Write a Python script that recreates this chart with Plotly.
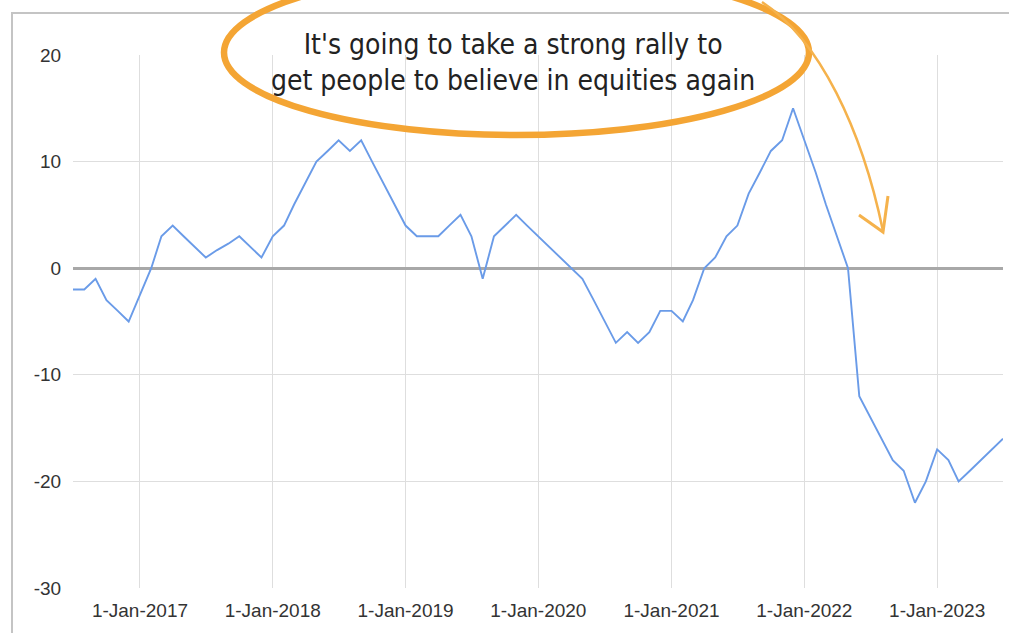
import plotly.graph_objects as go
import pandas as pd

# ---- data ----
months = pd.date_range("2016-07-01", "2023-07-01", freq="MS").strftime("%Y-%m-%d").tolist()
values = [
    -2, -2, -1, -3, -4, -5,                      # 2016 Jul-Dec
    -2.5, 0, 3, 4, 3, 2, 1, 1.7, 2.3, 3, 2, 1,   # 2017
    3, 4, 6, 8, 10, 11, 12, 11, 12, 10, 8, 6,    # 2018
    4, 3, 3, 3, 4, 5, 3, -1, 3, 4, 5, 4,         # 2019
    3, 2, 1, 0, -1, -3, -5, -7, -6, -7, -6, -4,  # 2020
    -4, -5, -3, 0, 1, 3, 4, 7, 9, 11, 12, 15,    # 2021
    12, 9, 6, 3, 0, -12, -14, -16, -18, -19, -22, -20,  # 2022
    -17, -18, -20, -19, -18, -17, -16,           # 2023 Jan-Jul
]
x_tickvals = ["2017-01-01", "2018-01-01", "2019-01-01", "2020-01-01",
              "2021-01-01", "2022-01-01", "2023-01-01"]
x_ticktext = ["1-Jan-2017", "1-Jan-2018", "1-Jan-2019", "1-Jan-2020",
              "1-Jan-2021", "1-Jan-2022", "1-Jan-2023"]
y_tickvals = [20, 10, 0, -10, -20, -30]
y_ticktext = ["20", "10", "0", "-10", "-20", "-30"]
note_lines = ["It's going to take a strong rally to",
              "get people to believe in equities again"]

# ---- layout geometry (pixels) ----
W, H = 1009, 633
L, R, T, B = 73, 1003, 55, 588


def px(xp):
    return (xp - L) / (R - L)


def py(yp):
    return (B - yp) / (B - T)


fig = go.Figure()
fig.add_trace(go.Scatter(
    x=months, y=values, mode="lines",
    line=dict(color="#6a9be8", width=1.9),
    hoverinfo="x+y", showlegend=False,
))

tick_font = dict(family="Liberation Sans, Arial, sans-serif", size=19, color="#333333")

fig.update_layout(
    width=W, height=H,
    margin=dict(l=L, r=W - R, t=T, b=H - B),
    paper_bgcolor="white", plot_bgcolor="white",
    showlegend=False,
    xaxis=dict(
        range=["2016-07-01", "2023-07-01"],
        tickvals=x_tickvals, ticktext=x_ticktext,
        showgrid=True, gridcolor="#dedede", gridwidth=1,
        zeroline=False, showline=False,
        ticks="outside", ticklen=5, tickcolor="rgba(0,0,0,0)",
        tickfont=tick_font, fixedrange=True,
    ),
    yaxis=dict(
        range=[-30, 20],
        tickvals=y_tickvals, ticktext=y_ticktext,
        showgrid=True, gridcolor="#dedede", gridwidth=1,
        zeroline=True, zerolinecolor="#a8a8a8", zerolinewidth=2.5,
        showline=False,
        ticks="outside", ticklen=7, tickcolor="rgba(0,0,0,0)",
        tickfont=tick_font, fixedrange=True,
    ),
)

orange = "#f4a534"
shapes = [
    # outer frame of the screenshot
    dict(type="rect", xref="paper", yref="paper",
         x0=px(12), x1=px(1030), y0=py(660), y1=py(13),
         line=dict(color="#c4c4c4", width=2), layer="above"),
    # hand-drawn ellipse
    dict(type="circle", xref="paper", yref="paper",
         x0=px(224), x1=px(809), y0=py(135), y1=py(-30),
         line=dict(color=orange, width=6.5), layer="above"),
    # arrow shaft
    dict(type="path", xref="paper", yref="paper",
         path=f"M {px(762)} {py(2)} C {px(820)} {py(40)}, {px(862)} {py(130)}, {px(883)} {py(231)}",
         line=dict(color="#f5b24c", width=2.5), layer="above"),
    # arrow head
    dict(type="path", xref="paper", yref="paper",
         path=f"M {px(859)} {py(215)} L {px(883)} {py(232)} L {px(888)} {py(196)}",
         line=dict(color="#f5b24c", width=3), layer="above"),
]
fig.update_layout(shapes=shapes)

fig.add_annotation(
    xref="paper", yref="paper", x=px(513), y=py(62),
    xanchor="center", yanchor="middle", showarrow=False,
    text="<br>".join(note_lines), align="center",
    font=dict(family="DejaVu Sans Condensed, Liberation Sans Narrow, DejaVu Sans, sans-serif",
              size=28, color="#222222"),
)

fig.write_html("out.html", config={"displayModeBar": False})
